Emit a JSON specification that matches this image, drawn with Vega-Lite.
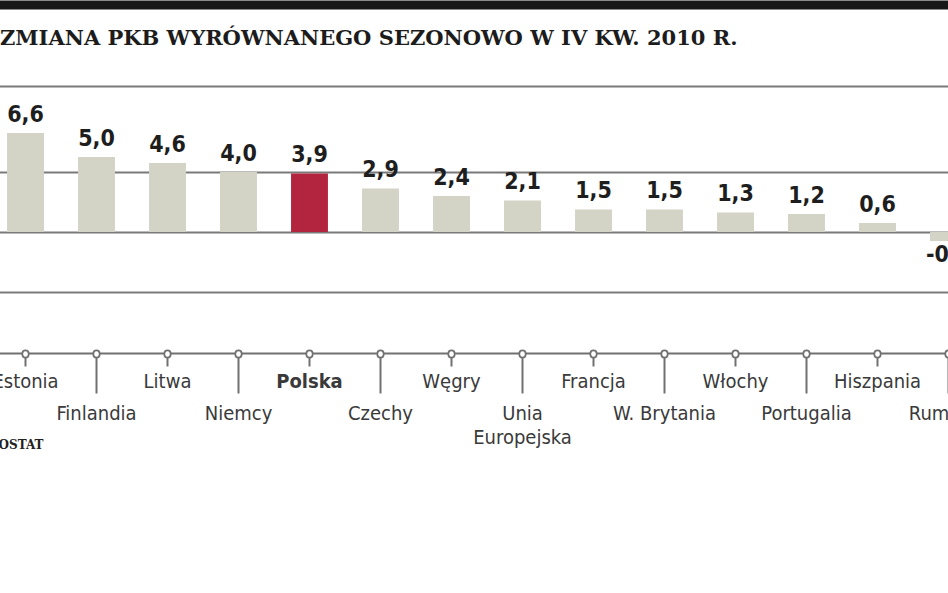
{
  "$schema": "https://vega.github.io/schema/vega-lite/v6.json",
  "width": 948,
  "height": 206,
  "autosize": {"type": "none"},
  "padding": {"top": 86, "left": 0, "right": 0, "bottom": 301},
  "background": "white",
  "title": {
    "text": "ZMIANA PKB WYRÓWNANEGO SEZONOWO W IV KW. 2010 R.",
    "anchor": "start",
    "frame": "group",
    "orient": "top",
    "offset": -61,
    "baseline": "alphabetic",
    "font": "DejaVu Serif",
    "fontSize": 21,
    "fontWeight": "bold",
    "color": "#1c1c1c"
  },
  "config": {
    "view": {"stroke": null},
    "locale": {"number": {"decimal": ",", "thousands": " ", "grouping": [3], "currency": ["", " zł"], "minus": "-"}}
  },
  "data": {
    "values": [
      {"kraj": "Estonia", "zmiana": 6.6},
      {"kraj": "Finlandia", "zmiana": 5.0},
      {"kraj": "Litwa", "zmiana": 4.6},
      {"kraj": "Niemcy", "zmiana": 4.0},
      {"kraj": "Polska", "zmiana": 3.9},
      {"kraj": "Czechy", "zmiana": 2.9},
      {"kraj": "Węgry", "zmiana": 2.4},
      {"kraj": "Unia Europejska", "zmiana": 2.1},
      {"kraj": "Francja", "zmiana": 1.5},
      {"kraj": "W. Brytania", "zmiana": 1.5},
      {"kraj": "Włochy", "zmiana": 1.3},
      {"kraj": "Portugalia", "zmiana": 1.2},
      {"kraj": "Hiszpania", "zmiana": 0.6},
      {"kraj": "Rumunia", "zmiana": -0.6}
    ]
  },
  "encoding": {
    "y": {
      "field": "zmiana",
      "type": "quantitative",
      "scale": {"domain": [-4, 9.73], "nice": false},
      "axis": {"values": [-4, 0, 4, 9.73], "grid": true, "gridColor": "#7a7a7a", "gridWidth": 2, "labels": false, "ticks": false, "domain": false, "title": null}
    }
  },
  "layer": [
    {
      "transform": [{"filter": "datum.kraj != 'Polska'"}],
      "mark": {"type": "bar", "color": "#d3d3c6"},
      "encoding": {
        "x": {
          "field": "kraj", "type": "nominal", "sort": null,
          "scale": {"domain": ["Estonia","Finlandia","Litwa","Niemcy","Polska","Czechy","Węgry","Unia Europejska","Francja","W. Brytania","Włochy","Portugalia","Hiszpania","Rumunia"], "range": [-10, 984], "paddingInner": 0.48, "paddingOuter": 0.24},
          "axis": {
            "orient": "bottom", "offset": 61, "grid": false,
            "domain": true, "domainColor": "#707070", "domainWidth": 2,
            "ticks": true, "tickColor": "#707070", "tickWidth": 2,
            "tickSize": {"condition": {"test": "indexof(['Finlandia','Niemcy','Czechy','Unia Europejska','W. Brytania','Portugalia','Rumunia'], datum.value) >= 0", "value": 40}, "value": 13},
            "labelPadding": {"condition": {"test": "indexof(['Finlandia','Niemcy','Czechy','Unia Europejska','W. Brytania','Portugalia','Rumunia'], datum.value) >= 0", "value": 10}, "value": 5},
            "labelFont": "DejaVu Sans Condensed, DejaVu Sans", "labelFontSize": 20, "labelColor": "#3a3a3a",
            "labelFontWeight": {"condition": {"test": "datum.value == 'Polska'", "value": "bold"}, "value": "normal"},
            "labelAngle": 0, "labelOverlap": false, "labelBound": false, "labelLimit": 0, "labelLineHeight": 24,
            "labelExpr": "datum.value == 'Unia Europejska' ? ['Unia', 'Europejska'] : datum.label",
            "title": "ŹRÓDŁO: EUROSTAT", "titleFont": "DejaVu Serif", "titleFontSize": 12, "titleFontWeight": "bold", "titleColor": "#222222",
            "titleAlign": "right", "titleX": 43, "titleY": 95, "titleBaseline": "alphabetic", "titleAngle": 0,
            "zindex": 1
          }
        }
      }
    },
    {
      "transform": [{"filter": "datum.kraj == 'Polska'"}],
      "mark": {"type": "bar", "color": "#b3253f"},
      "encoding": {
        "x": {
          "field": "kraj", "type": "nominal", "sort": null,
          "scale": {"domain": ["Estonia","Finlandia","Litwa","Niemcy","Polska","Czechy","Węgry","Unia Europejska","Francja","W. Brytania","Włochy","Portugalia","Hiszpania","Rumunia"], "range": [-10, 984], "paddingInner": 0.48, "paddingOuter": 0.24},
          "axis": {"orient": "bottom", "offset": 61, "grid": false, "domain": false, "labels": false, "ticks": true, "tickSize": 1, "tickWidth": 8, "tickCap": "round", "tickColor": "#707070", "title": null, "zindex": 2}
        }
      }
    },
    {
      "transform": [{"filter": "datum.zmiana >= 0"}],
      "mark": {"type": "text", "baseline": "alphabetic", "dy": -11, "font": "DejaVu Sans Condensed, DejaVu Sans", "fontWeight": "bold", "fontSize": 23, "color": "#1e1e1e"},
      "encoding": {
        "x": {
          "field": "kraj", "type": "nominal", "sort": null,
          "scale": {"domain": ["Estonia","Finlandia","Litwa","Niemcy","Polska","Czechy","Węgry","Unia Europejska","Francja","W. Brytania","Włochy","Portugalia","Hiszpania","Rumunia"], "range": [-10, 984], "paddingInner": 0.48, "paddingOuter": 0.24},
          "axis": {"orient": "bottom", "offset": 61, "grid": false, "domain": false, "labels": false, "ticks": true, "tickSize": 1, "tickWidth": 4.5, "tickCap": "round", "tickColor": "#ffffff", "title": null, "zindex": 3}
        },
        "text": {"field": "zmiana", "type": "quantitative", "format": ".1f"}
      }
    },
    {
      "transform": [{"filter": "datum.zmiana < 0"}],
      "mark": {"type": "text", "baseline": "alphabetic", "dy": 21, "font": "DejaVu Sans Condensed, DejaVu Sans", "fontWeight": "bold", "fontSize": 23, "color": "#1e1e1e"},
      "encoding": {
        "x": {
          "field": "kraj", "type": "nominal", "sort": null,
          "scale": {"domain": ["Estonia","Finlandia","Litwa","Niemcy","Polska","Czechy","Węgry","Unia Europejska","Francja","W. Brytania","Włochy","Portugalia","Hiszpania","Rumunia"], "range": [-10, 984], "paddingInner": 0.48, "paddingOuter": 0.24},
          "axis": {"orient": "top", "offset": 81.5, "grid": false, "domain": true, "domainColor": "#181818", "domainWidth": 9, "labels": false, "ticks": false, "title": null, "zindex": 4}
        },
        "text": {"field": "zmiana", "type": "quantitative", "format": ".1f"}
      }
    }
  ],
  "resolve": {"axis": {"x": "independent"}}
}
